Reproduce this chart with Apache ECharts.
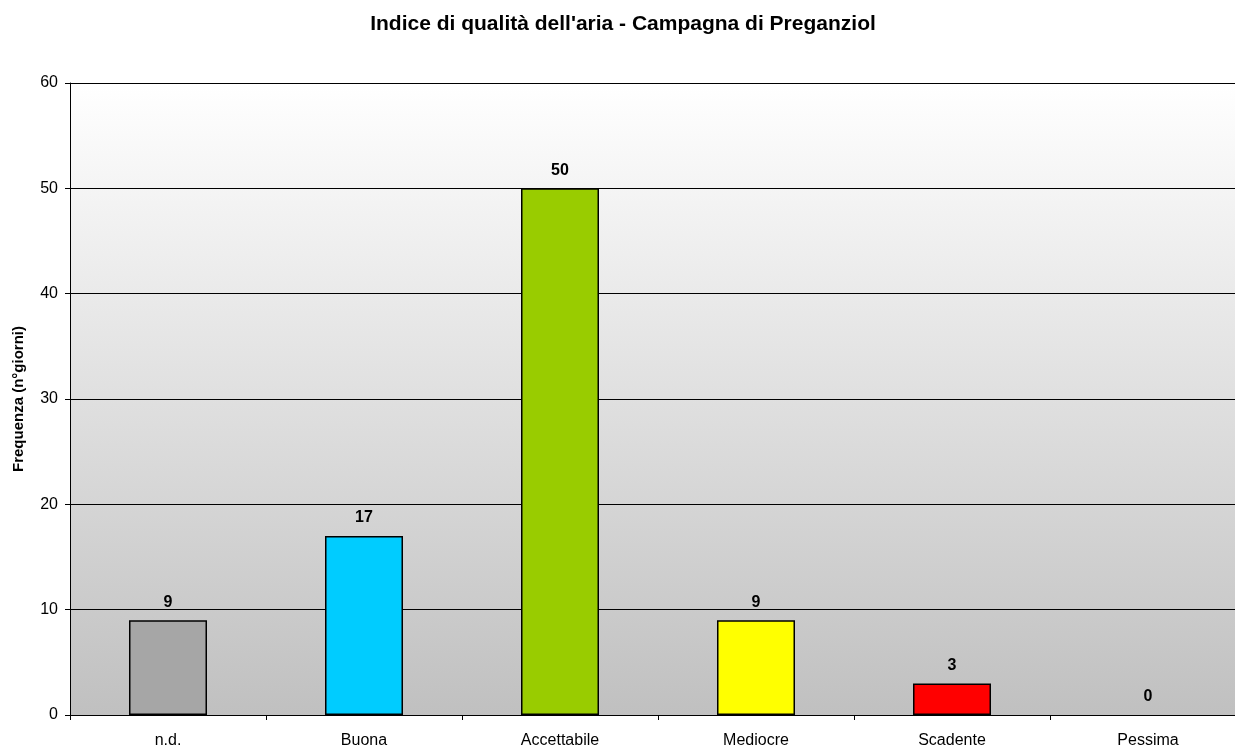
<!DOCTYPE html>
<html><head><meta charset="utf-8">
<script src="https://cdn.jsdelivr.net/npm/echarts@6/dist/echarts.min.js"></script>
<style>html,body{margin:0;padding:0;background:#fff;overflow:hidden;width:1235px;height:749px}#c{width:1246px;height:749px}</style>
</head><body><div id="c"></div>
<script>
const categories = ['n.d.', 'Buona', 'Accettabile', 'Mediocre', 'Scadente', 'Pessima'];
const values = [9, 17, 50, 9, 3, 0];
const barColors = ['#a6a6a6', '#00ccff', '#99cc00', '#ffff00', '#ff0000', '#808080'];
const titleText = "Indice di qualità dell'aria - Campagna di Preganziol";
const yAxisName = 'Frequenza (n°giorni)';

const chart = echarts.init(document.getElementById('c'), null, {renderer: 'canvas'});
const font = 'Liberation Sans, Arial, sans-serif';
chart.setOption({
  animation: false,
  textStyle: {fontFamily: font},
  title: {text: titleText, left: 'center', top: 9,
    textStyle: {fontFamily: font, fontSize: 21, fontWeight: 'bold', color: '#000'}},
  grid: {left: 70, top: 83, bottom: 34, right: 0,
    backgroundColor: new echarts.graphic.LinearGradient(0, 0, 0, 1, [
      {offset: 0, color: '#ffffff'}, {offset: 1, color: '#c0c0c0'}]),
    show: true, borderWidth: 0},
  xAxis: {type: 'category', data: categories,
    axisLine: {lineStyle: {color: '#000', width: 1}},
    axisTick: {show: true, length: 5, lineStyle: {color: '#000'}},
    axisLabel: {color: '#000', fontSize: 16, margin: 18, fontFamily: font}},
  yAxis: {type: 'value', min: 0, max: 60, interval: 10,
    name: yAxisName, nameLocation: 'middle', nameGap: 44,
    nameTextStyle: {fontWeight: 'bold', fontSize: 15, color: '#000', fontFamily: font},
    axisLine: {show: true, lineStyle: {color: '#000'}},
    axisTick: {show: true, length: 5, lineStyle: {color: '#000'}},
    axisLabel: {color: '#000', fontSize: 16, margin: 12, fontFamily: font},
    splitLine: {show: true, lineStyle: {color: '#000', width: 1}}},
  series: [{type: 'bar', barWidth: 78,
    data: values.map((v, i) => ({value: v, itemStyle: {color: barColors[i], borderColor: v === 0 ? 'transparent' : '#000'}})),
    itemStyle: {borderColor: '#000', borderWidth: 1.5},
    label: {show: true, position: 'top', distance: 10, color: '#000', fontWeight: 'bold', fontSize: 16, fontFamily: font}}]
});
</script></body></html>
